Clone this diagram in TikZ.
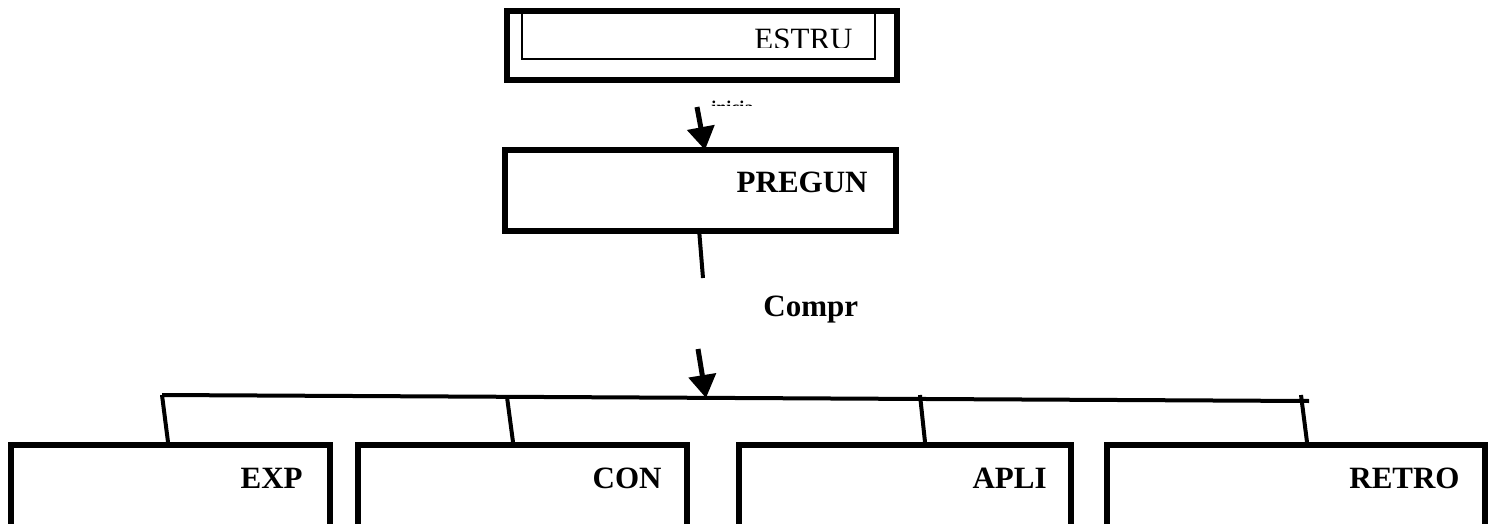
\documentclass[tikz,border=0pt]{standalone}
\usepackage{fontspec}
\setmainfont{Liberation Serif}
\usetikzlibrary{arrows.meta}
\begin{document}
\begin{tikzpicture}[x=0.5pt,y=-0.5pt,
  thickbox/.style={draw=black,line width=3pt,inner sep=0pt,rectangle},
  thinbox/.style={draw=black,line width=0.75pt,inner sep=0pt,rectangle},
  lbl/.style={inner sep=0pt,anchor=base east,font=\fontsize{15.5pt}{18pt}\selectfont\bfseries},
  plainlbl/.style={inner sep=0pt,anchor=base east,font=\fontsize{15.5pt}{18pt}\selectfont},
  arrowline/.style={line width=2.5pt,-{Triangle[width=13.5pt,length=11.5pt]}},
  conn/.style={line width=2pt,line cap=butt},
  bus/.style={line width=2pt}]
\useasboundingbox (0,0) rectangle (1494,524);
\clip (0,0) rectangle (1494,524);

% top box
\node[thickbox,minimum width=195pt,minimum height=34.25pt] (estru) at (702,45.75) {};
\node[thinbox,minimum width=176.5pt,minimum height=23.75pt] (estruin) at (698.5,35.25) {};
\begin{scope}
  \clip (740,20) rectangle (870,48);
  \node[plainlbl] (estrut) at (853,50) {ESTRU};
\end{scope}
\begin{scope}
  \clip (705,98) rectangle (760,106);
  \node[inner sep=0pt,anchor=base west,font=\fontsize{9pt}{10pt}\selectfont\bfseries] (ini) at (711,114) {inicia};
\end{scope}

% PREGUN
\node[thickbox,minimum width=195.5pt,minimum height=40.5pt] (preg) at (700.5,190.5) {};
\node[lbl] (pregt) at (868,192) {PREGUN};

\node[inner sep=0pt,anchor=base west,font=\fontsize{15.5pt}{18pt}\selectfont\bfseries] (compr) at (763,316) {Compr};

% bottom boxes
\node[thickbox,minimum width=159.75pt,minimum height=77.5pt] (exp) at (170.25,522.5) {};
\node[thickbox,minimum width=164.5pt,minimum height=77.5pt] (con) at (522.5,522.5) {};
\node[thickbox,minimum width=166pt,minimum height=77.5pt] (apli) at (905,522.5) {};
\node[thickbox,minimum width=189pt,minimum height=77.5pt] (retro) at (1296,522.5) {};
\node[lbl] (expt) at (303,488) {EXP};
\node[lbl] (cont) at (662,488) {CON};
\node[lbl] (aplit) at (1047,488) {APLI};
\node[lbl] (retrot) at (1460,488) {RETRO};

% connectors
\coordinate (a1s) at (697,107);
\coordinate (a1e) at (705,150);
\draw[arrowline] (a1s) -- (a1e);
\coordinate (l2s) at (699,229);
\coordinate (l2e) at (703,278);
\draw[conn] (l2s) -- (l2e);
\coordinate (a3s) at (698,349);
\coordinate (a3e) at (706,398);
\draw[arrowline] (a3s) -- (a3e);

\coordinate (busl) at (162,395);
\coordinate (busr) at (1309,401);
\draw[bus] (busl) -- (busr);
\coordinate (c2s) at (507,397);
\coordinate (c3s) at (920,395);
\coordinate (c4s) at (1301,395);
\draw[conn] (busl) -- (exp.north -| 168,0);
\draw[conn] (c2s) -- (con.north -| 513,0);
\draw[conn] (c3s) -- (apli.north -| 925,0);
\draw[conn] (c4s) -- (retro.north -| 1307,0);
\end{tikzpicture}
\end{document}
